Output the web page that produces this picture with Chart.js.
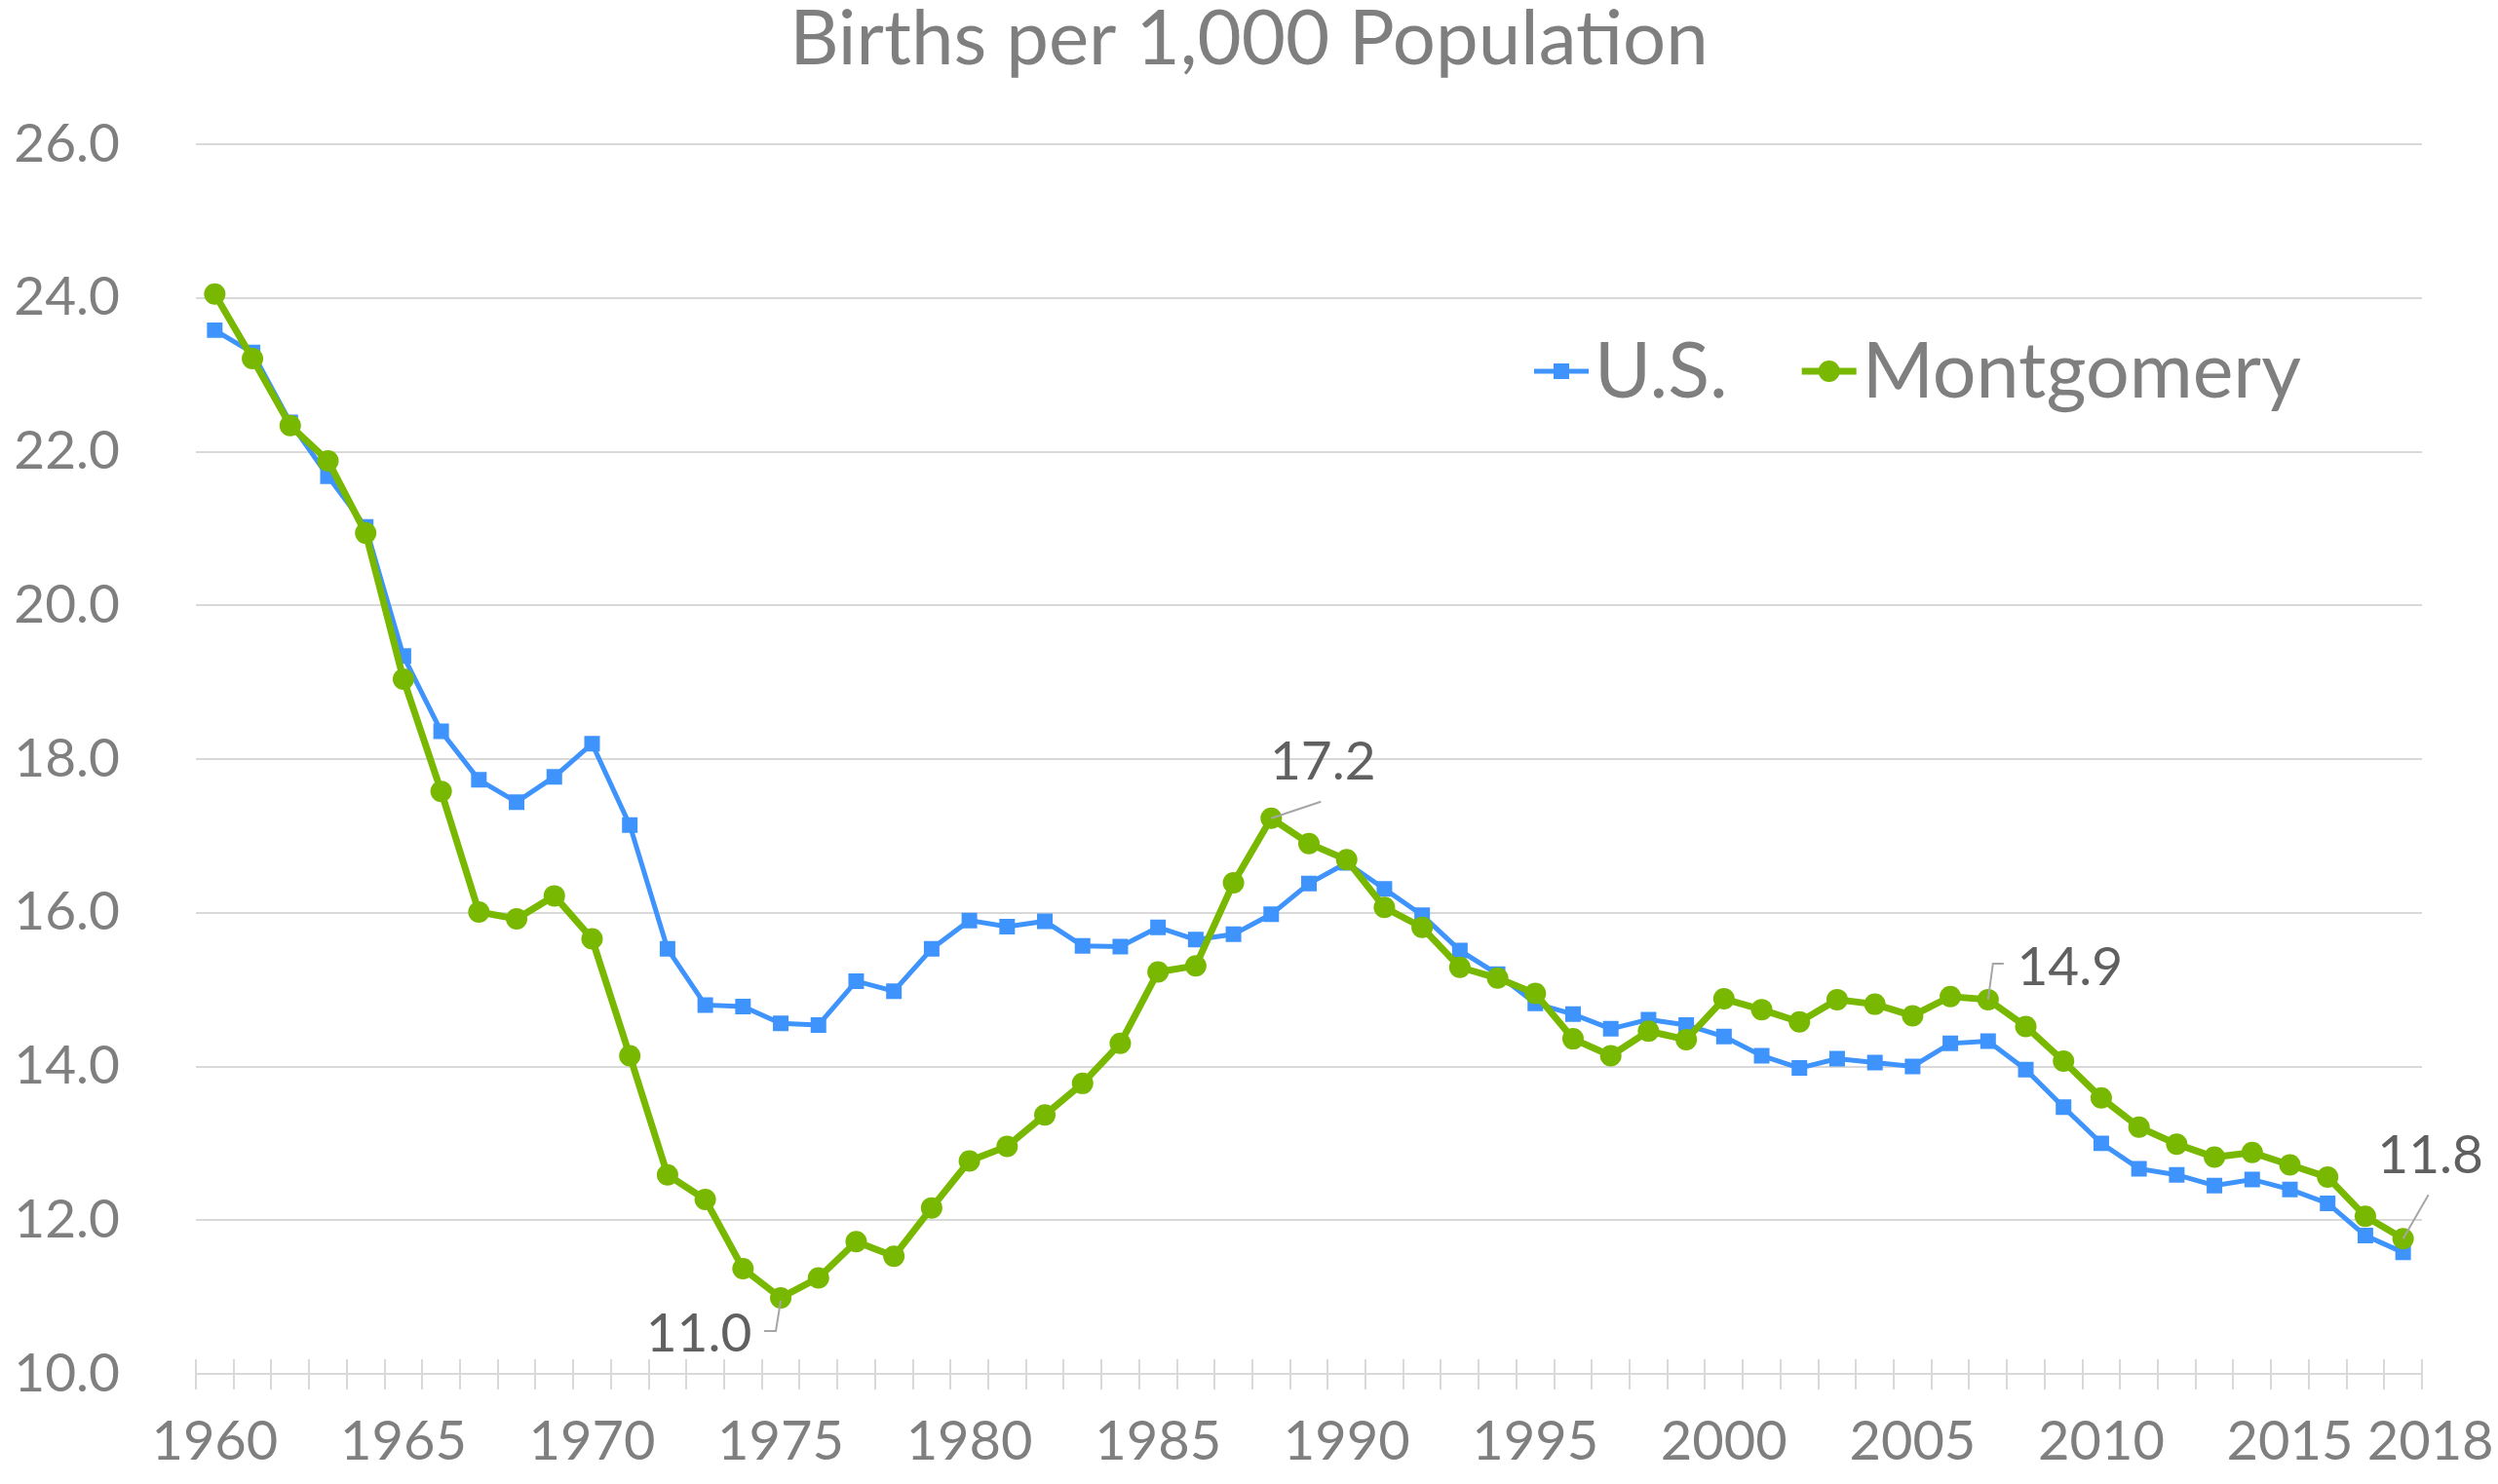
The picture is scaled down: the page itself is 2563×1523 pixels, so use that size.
<!DOCTYPE html>
<html>
<head>
<meta charset="utf-8">
<title>Births per 1,000 Population</title>
<script src="https://cdn.jsdelivr.net/npm/chart.js@4.4.1/dist/chart.umd.min.js"></script>
<style>
  body { margin: 0; background: #fff; }
  canvas { display: block; }
</style>
</head>
<body>
<canvas id="births" width="2563" height="1523"></canvas>
<script>
// data
const years = [
  '1960','1961','1962','1963','1964','1965','1966','1967','1968','1969',
  '1970','1971','1972','1973','1974','1975','1976','1977','1978','1979',
  '1980','1981','1982','1983','1984','1985','1986','1987','1988','1989',
  '1990','1991','1992','1993','1994','1995','1996','1997','1998','1999',
  '2000','2001','2002','2003','2004','2005','2006','2007','2008','2009',
  '2010','2011','2012','2013','2014','2015','2016','2017','2018'
]
const usRate = [
  23.58, 23.29, 22.38, 21.68, 21.02, 19.34, 18.36, 17.73, 17.44, 17.77,
  18.20, 17.14, 15.53, 14.80, 14.78, 14.56, 14.54, 15.11, 14.98, 15.53,
  15.90, 15.82, 15.89, 15.57, 15.56, 15.81, 15.65, 15.72, 15.98, 16.38,
  16.65, 16.31, 15.97, 15.51, 15.20, 14.82, 14.68, 14.49, 14.61, 14.54,
  14.39, 14.14, 13.98, 14.10, 14.05, 14.00, 14.30, 14.33, 13.96, 13.47,
  13.00, 12.67, 12.59, 12.45, 12.53, 12.40, 12.22, 11.80, 11.58
]
const montgomeryRate = [
  24.05, 23.21, 22.34, 21.88, 20.94, 19.04, 17.58, 16.01, 15.92, 16.22,
  15.66, 14.14, 12.59, 12.27, 11.37, 10.99, 11.25, 11.72, 11.53, 12.16,
  12.77, 12.96, 13.37, 13.78, 14.30, 15.23, 15.31, 16.39, 17.23, 16.90,
  16.69, 16.07, 15.81, 15.29, 15.15, 14.95, 14.36, 14.14, 14.46, 14.35,
  14.88, 14.74, 14.58, 14.87, 14.81, 14.66, 14.91, 14.87, 14.52, 14.07,
  13.59, 13.21, 12.99, 12.82, 12.88, 12.72, 12.56, 12.05, 11.76
]
const tickYears = ['1960','1965','1970','1975','1980','1985','1990','1995','2000','2005','2010','2015','2018']
const calloutYears = ['1975','1988','2007','2018']

const FONT = 'Lato'
const GREY = '#7f7f7f'

// where each callout text sits relative to its point, and the leader line path
const calloutStyle = {
  '1975': { dx: -84, dy: 37, path: [[0, 3], [-5, 34], [-17, 34]] },
  '1988': { dx: 53, dy: -57, path: [[0, 0], [51, -17]] },
  '2007': { dx: 84, dy: -33, path: [[0, 0], [5, -37], [16, -37]] },
  '2018': { dx: 28, dy: -85, path: [[0, 0], [26, -45]] }
}

const callouts = {
  id: 'callouts',
  afterDatasetsDraw(chart) {
    const ctx = chart.ctx
    const meta = chart.getDatasetMeta(1)
    ctx.save()
    calloutYears.forEach(yr => {
      const i = years.indexOf(yr)
      const pt = meta.data[i]
      const s = calloutStyle[yr]
      ctx.strokeStyle = '#a6a6a6'
      ctx.lineWidth = 2
      ctx.beginPath()
      s.path.forEach((p, k) => {
        if (k == 0) ctx.moveTo(pt.x + p[0], pt.y + p[1])
        else ctx.lineTo(pt.x + p[0], pt.y + p[1])
      })
      ctx.stroke()
      ctx.fillStyle = '#606060'
      ctx.font = '55px ' + FONT
      ctx.textAlign = 'center'
      ctx.textBaseline = 'middle'
      ctx.fillText(montgomeryRate[i].toFixed(1), pt.x + s.dx, pt.y + s.dy)
    })
    ctx.restore()
  }
}

// small cross ticks above the category axis
const axisTicks = {
  id: 'axisTicks',
  beforeDatasetsDraw(chart) {
    const x = chart.scales.x
    const ctx = chart.ctx
    const step = x.getPixelForValue(1) - x.getPixelForValue(0)
    ctx.save()
    ctx.strokeStyle = '#d9d9d9'
    ctx.lineWidth = 2
    ctx.beginPath()
    for (let i = 0; i <= years.length; i++) {
      const px = Math.round(x.getPixelForValue(i) - step / 2)
      ctx.moveTo(px, x.top - 15)
      ctx.lineTo(px, x.top)
    }
    ctx.stroke()
    ctx.restore()
  }
}

// legend drawn inside the plot, like the original
const insideLegend = {
  id: 'insideLegend',
  afterDraw(chart) {
    const ctx = chart.ctx
    let x = 1574
    const y = 381
    ctx.save()
    ctx.font = '79px ' + FONT
    ctx.textBaseline = 'middle'
    ctx.textAlign = 'left'
    chart.data.datasets.forEach(ds => {
      ctx.strokeStyle = ds.borderColor
      ctx.lineWidth = ds.borderWidth
      ctx.beginPath()
      ctx.moveTo(x, y)
      ctx.lineTo(x + 56, y)
      ctx.stroke()
      ctx.fillStyle = ds.pointBackgroundColor
      Chart.helpers.drawPoint(ctx, { pointStyle: ds.pointStyle, radius: ds.pointRadius, rotation: 0, borderWidth: 0 }, x + 28, y)
      ctx.fillStyle = GREY
      ctx.fillText(ds.label, x + 62, y + 2)
      x += 62 + ctx.measureText(ds.label).width + 76
    })
    ctx.restore()
  }
}

new Chart('births', {
  type: 'line',
  data: {
    labels: years,
    datasets: [{
      label: 'U.S.',
      data: usRate,
      borderColor: '#3e93fc',
      backgroundColor: '#3e93fc',
      pointBackgroundColor: '#3e93fc',
      pointBorderWidth: 0,
      borderWidth: 5,
      pointStyle: 'rect',
      pointRadius: 11.3,
      tension: 0,
      order: 2
    }, {
      label: 'Montgomery',
      data: montgomeryRate,
      borderColor: '#78b800',
      backgroundColor: '#78b800',
      pointBackgroundColor: '#78b800',
      pointBorderWidth: 0,
      borderWidth: 7,
      pointStyle: 'circle',
      pointRadius: 11,
      tension: 0,
      order: 1
    }]
  },
  options: {
    responsive: false,
    animation: false,
    devicePixelRatio: 1,
    events: [],
    layout: {
      padding: 0
    },
    plugins: {
      legend: { display: false },
      tooltip: { enabled: false },
      title: {
        display: true,
        text: 'Births per 1,000 Population',
        color: GREY,
        font: { family: FONT, size: 78, weight: 'normal', lineHeight: 1 },
        padding: { top: 2, bottom: 68 }
      }
    },
    scales: {
      x: {
        offset: true,
        afterFit: scale => {
          scale.height = 113
          scale.paddingLeft = 0
          scale.paddingRight = 0
        },
        grid: {
          offset: true,
          drawOnChartArea: false,
          tickLength: 16,
          color: '#d9d9d9',
          lineWidth: 2
        },
        border: { display: true, color: '#d9d9d9', width: 2 },
        ticks: {
          autoSkip: false,
          maxRotation: 0,
          padding: 20,
          color: GREY,
          font: { family: FONT, size: 56 },
          callback: function(value) {
            const yr = this.getLabelForValue(value)
            if (yr == '2018') return '\u2002\u2002' + yr
            return tickYears.includes(yr) ? yr : ''
          }
        }
      },
      y: {
        min: 10,
        max: 26,
        afterFit: scale => { scale.width = 201 },
        grid: { color: '#d9d9d9', lineWidth: 2, drawTicks: false },
        border: { display: false },
        ticks: {
          stepSize: 2,
          padding: 78,
          color: GREY,
          font: { family: FONT, size: 55 },
          callback: v => v.toFixed(1)
        }
      },
      // empty strip on the right so the plot stops where the original does
      rightGap: {
        position: 'right',
        afterFit: scale => { scale.width = 78 },
        grid: { display: false },
        border: { display: false },
        ticks: { display: false }
      }
    }
  },
  plugins: [axisTicks, callouts, insideLegend]
})
</script>
</body>
</html>
